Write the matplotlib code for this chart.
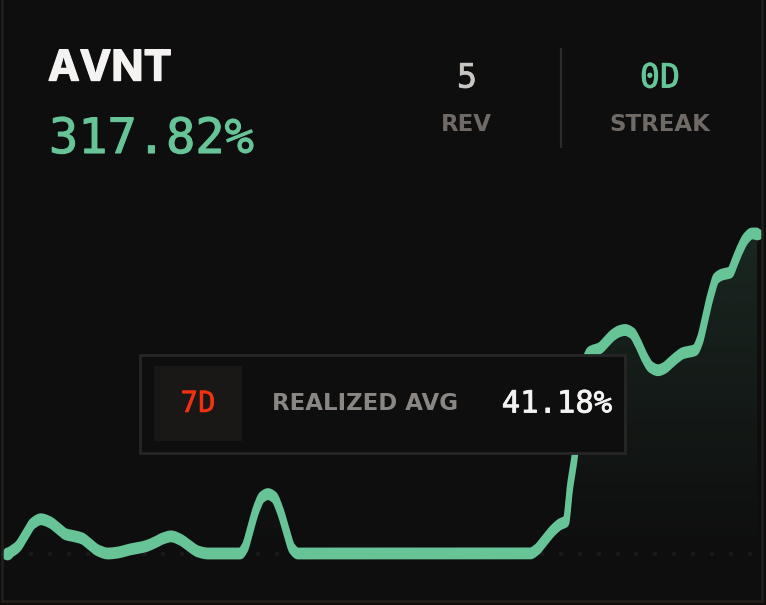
#!/usr/bin/env python3
"""AVNT return card: dark panel with a smoothed green line and a realized avg box."""

import numpy as np
import matplotlib
matplotlib.use("Agg")
import matplotlib.pyplot as plt
import matplotlib.patheffects as pe
from matplotlib.patches import Rectangle

W, H = 766, 605

# chart values (position along the panel, return in %)
pos = [7, 13, 18, 25, 33, 41, 50, 58, 66, 75, 82, 90, 98, 108, 118, 130, 145, 155,
       163, 171, 180, 190, 198, 208, 240, 245, 250, 257, 262, 268, 274, 280, 287,
       292, 298, 530, 537, 543, 553, 560, 566, 570, 575, 578, 582, 586, 590, 600,
       606, 613, 620, 625, 632, 638, 645, 651, 658, 664, 670, 677, 683, 695, 700,
       704, 708, 712, 716, 722, 730, 735, 740, 746, 752, 757]
returns = [0, 3, 7, 18, 30, 34, 31, 25, 19, 17, 15, 9, 3, 0, 1, 4, 7, 11,
           15, 17, 14, 7, 2, 0, 0, 6, 23, 46, 56, 59, 56, 43, 20,
           5, 0, 0, 4, 11, 23, 29, 32, 66, 99, 132, 167, 192, 200, 204,
           210, 217, 221, 222, 219, 209, 194, 185, 182, 184, 189, 195, 199, 202, 212,
           228, 246, 261, 273, 277, 279, 290, 302, 313, 317.82, 317.82]

symbol = "AVNT"
total_return = "317.82%"
stats_labels = ["REV", "STREAK"]
stats_values = ["5", "0D"]
window_label = "7D"
avg_label = "REALIZED AVG"
avg_value = "41.18%"
n_dots = 39

BG = "#0e0e0e"
GREEN = "#66c497"
MONO = "DejaVu Sans Mono"
SANS = "DejaVu Sans"


def round_corners(px, py, steps=8):
    """Monotone curve through the read points, only to round the corners when drawing."""
    secant = np.diff(py) / np.diff(px)
    slope = np.zeros_like(py)
    for i in range(1, len(px) - 1):
        a, b = secant[i - 1], secant[i]
        if a * b > 0:
            slope[i] = 2 * a * b / (a + b)
    xs, ys = [], []
    t = np.linspace(0, 1, steps, endpoint=False)
    h00 = 2 * t**3 - 3 * t**2 + 1
    h10 = t**3 - 2 * t**2 + t
    h01 = -2 * t**3 + 3 * t**2
    h11 = t**3 - t**2
    for i in range(len(px) - 1):
        dx = px[i + 1] - px[i]
        xs.append(px[i] + t * dx)
        ys.append(h00 * py[i] + h10 * dx * slope[i] + h01 * py[i + 1] + h11 * dx * slope[i + 1])
    return np.r_[np.concatenate(xs), px[-1]], np.r_[np.concatenate(ys), py[-1]]


def heavier(width, color):
    # the mono font only comes in thin or very bold, this sits in between
    return [pe.withStroke(linewidth=width, foreground=color)]


fig = plt.figure(figsize=(W / 100, H / 100), dpi=100, facecolor=BG)

# chart axes: y is return in %, zero sits on the dotted baseline
k = 317.82 / 320
ax = fig.add_axes([0, 0, 1, 1], facecolor=BG)
ax.axis("off")

sx, sy = round_corners(np.array(pos, dtype=float), np.array(returns, dtype=float))

# area under the line, fades out towards the baseline
grad = np.zeros((256, 2, 4))
grad[..., :3] = matplotlib.colors.to_rgb(GREEN)
grad[..., 3] = np.linspace(0.14, 0.0, 256)[:, None]
poly = ax.fill_between(sx, sy, -2, color="none", zorder=1)
img = ax.imshow(grad, extent=[0, W, -2, 320], origin="upper", aspect="auto", zorder=1)
img.set_clip_path(poly.get_paths()[0], transform=ax.transData)
ax.set_xlim(0, W)
ax.set_ylim(-51.5 * k, 553.5 * k)

# dotted baseline
dot_x = 31 + 18.92 * np.arange(n_dots)
ax.scatter(dot_x, np.zeros(n_dots), marker="s", s=12, color="#191919", linewidths=0, zorder=2)

# the stroke is stretched vertically in the original, so flat parts look thicker
off = 3.0 * k
ax.fill_between(sx, sy - off, sy + off, color=GREEN, linewidth=0, zorder=3)
for d in (-off, off):
    ax.plot(sx, sy + d, color=GREEN, lw=4.2, solid_joinstyle="round",
            solid_capstyle="round", zorder=3)
# single round end instead of the two stroke ends
ax.plot(sx[[0, -1]], sy[[0, -1]], "o", color=GREEN, ms=8.4, mew=0, zorder=3)

# layout overlay in pixels
ov = fig.add_axes([0, 0, 1, 1], facecolor="none")
ov.set_xlim(0, W)
ov.set_ylim(H, 0)
ov.axis("off")

# panel border
ov.add_patch(Rectangle((2, -5), 760, 606, fill=False, ec="#231f1c", lw=1.8))

ov.text(48, 69, symbol, color="#f5f3f2", fontsize=30.5, fontweight="bold", family="Inter",
        va="center", ha="left", path_effects=heavier(1.0, "#f5f3f2"))
ov.text(49, 139, total_return, color=GREEN, fontsize=35, family=MONO,
        va="center", ha="left", path_effects=heavier(0.8, GREEN))

ov.text(467, 78, stats_values[0], color="#c9c5c1", fontsize=24, family=MONO,
        va="center", ha="center", path_effects=heavier(0.6, "#c9c5c1"))
ov.text(660, 78, stats_values[1], color=GREEN, fontsize=24, family=MONO,
        va="center", ha="center", path_effects=heavier(0.6, GREEN))
ov.text(466, 124.5, stats_labels[0], color="#6f6a66", fontsize=16.5, fontweight="bold",
        family=SANS, va="center", ha="center")
ov.text(660, 124.5, stats_labels[1], color="#6f6a66", fontsize=16.5, fontweight="bold",
        family=SANS, va="center", ha="center")
ov.plot([561, 561], [48, 148], color="#2e2a27", lw=1.6, solid_capstyle="butt")

# realized avg box
ov.add_patch(Rectangle((140, 355), 485, 98, fc=BG, ec="#262626", lw=2, zorder=5))
ov.add_patch(Rectangle((154, 366), 88, 75, fc="#191816", ec="none", zorder=6))
ov.text(198, 404, window_label, color="#f03212", fontsize=21, family=MONO, va="center",
        ha="center", zorder=7, path_effects=heavier(0.4, "#f03212"))
ov.text(365.5, 404, avg_label, color="#8a8683", fontsize=16.5, fontweight="bold",
        family=SANS, va="center", ha="center", zorder=7)
ov.text(612, 404, avg_value, color="#f5f3f2", fontsize=22, family=MONO, va="center",
        ha="right", zorder=7, path_effects=heavier(0.6, "#f5f3f2"))

fig.savefig("out.png", dpi=100, facecolor=BG)
